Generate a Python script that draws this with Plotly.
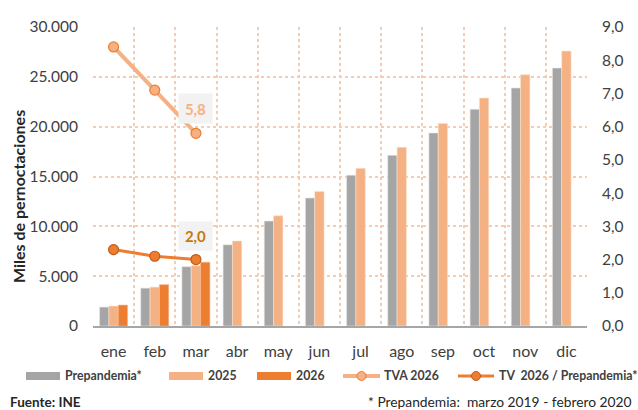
import plotly.graph_objects as go

meses = ["ene", "feb", "mar", "abr", "may", "jun", "jul", "ago", "sep", "oct", "nov", "dic"]
prepandemia = [1900, 3800, 5950, 8150, 10530, 12840, 15130, 17130, 19370, 21740, 23880, 25880]
v2025 = [2000, 3900, 6050, 8530, 11050, 13500, 15820, 17930, 20330, 22870, 25210, 27580]
v2026 = [2100, 4150, 6400, None, None, None, None, None, None, None, None, None]
tva_2026 = [8.4, 7.1, 5.8]
tv_prep = [2.3, 2.1, 2.0]

GRAY = "#a5a5a5"
LORANGE = "#f4b183"
ORANGE = "#ed7d31"
TXT = "#404040"
FONT = "Lato"

W, H = 638, 410
L, R, T, B = 93, 51, 27, 84
PW, PH = W - L - R, H - T - B


def px(x):
    return (x - L) / PW


def py(y):
    return (H - B - y) / PH


fig = go.Figure()
fig.add_bar(x=meses, y=prepandemia, name="Prepandemia*", marker=dict(color=GRAY, line=dict(width=0.6, color="#e6e6e6")))
fig.add_bar(x=meses, y=v2025, name="2025", marker=dict(color=LORANGE, line=dict(width=0.6, color="#fbe0cc")))
fig.add_bar(x=meses, y=v2026, name="2026", marker=dict(color=ORANGE, line=dict(width=0.6, color="#f6b98f")))
fig.add_scatter(x=meses[:3], y=tva_2026, name="TVA 2026", yaxis="y2", mode="lines+markers",
                line=dict(color=LORANGE, width=4),
                marker=dict(size=10, color=LORANGE, line=dict(color=ORANGE, width=1.2)))
fig.add_scatter(x=meses[:3], y=tv_prep, name="TV  2026 / Prepandemia*", yaxis="y2", mode="lines+markers",
                line=dict(color=ORANGE, width=3),
                marker=dict(size=10, color=ORANGE, line=dict(color="#c55a11", width=1.2)))

# data labels on last points
fig.add_annotation(x=meses[2], y=tva_2026[2], yref="y2", text="<b>5,8</b>", showarrow=False,
                   yshift=25, bgcolor="#f2f2f2", width=33, height=29, borderpad=0,
                   font=dict(family=FONT, size=15, color=LORANGE))
fig.add_annotation(x=meses[2], y=tv_prep[2], yref="y2", text="<b>2,0</b>", showarrow=False,
                   yshift=24, bgcolor="#f2f2f2", width=33, height=28, borderpad=0,
                   font=dict(family=FONT, size=15, color="#c8780a"))

# y axis title
fig.add_annotation(xref="paper", yref="paper", x=px(18), y=py(197), xanchor="center", yanchor="middle",
                   text="<b>Miles de pernoctaciones</b>",
                   textangle=-90, showarrow=False, font=dict(family=FONT, size=16, color="#262626"))

# manual legend
shapes = []
legend_items = [
    ("rect", GRAY, 26, 60, 63, "Prepandemia*"),
    ("rect", LORANGE, 169, 203, 206, "2025"),
    ("rect", ORANGE, 257, 291, 294, "2026"),
    ("line", LORANGE, 343, 380, 382, "TVA 2026"),
    ("line", ORANGE, 458, 494, 497, "TV  2026 / Prepandemia*"),
]
ly = 376
for kind, col, x0, x1, tx, label in legend_items:
    if kind == "rect":
        shapes.append(dict(type="rect", xref="paper", yref="paper", x0=px(x0), x1=px(x1),
                           y0=py(ly + 4), y1=py(ly - 4), fillcolor=col, line=dict(width=0)))
    else:
        w = 4 if col == LORANGE else 3
        mc = ORANGE if col == LORANGE else "#c55a11"
        shapes.append(dict(type="line", xref="paper", yref="paper", x0=px(x0), x1=px(x1),
                           y0=py(ly), y1=py(ly), line=dict(color=col, width=w)))
        xm = (x0 + x1) / 2
        shapes.append(dict(type="circle", xref="paper", yref="paper", x0=px(xm - 4.5), x1=px(xm + 4.5),
                           y0=py(ly + 4.5), y1=py(ly - 4.5), fillcolor=col, line=dict(color=mc, width=1)))
    fig.add_annotation(xref="paper", yref="paper", x=px(tx), y=py(ly), xanchor="left", yanchor="middle",
                       text="<b>" + label + "</b>", showarrow=False,
                       font=dict(family=FONT, size=12.3, color=TXT))

fig.add_annotation(xref="paper", yref="paper", x=px(8), y=py(402), xanchor="left", yanchor="middle",
                   text="<b>Fuente: INE</b>", showarrow=False, font=dict(family=FONT, size=13.5, color="#262626"))
fig.add_annotation(xref="paper", yref="paper", x=px(634), y=py(401), xanchor="right", yanchor="middle",
                   text="* Prepandemia:  marzo 2019 - febrero 2020", showarrow=False,
                   font=dict(family=FONT, size=13.8, color="#262626"))

fig.update_layout(
    width=W, height=H,
    margin=dict(l=L, r=R, t=T, b=B),
    paper_bgcolor="white", plot_bgcolor="white",
    separators=",.",
    barmode="group", bargap=0.32, bargroupgap=0,
    showlegend=False,
    shapes=shapes,
    font=dict(family=FONT, color=TXT),
    xaxis=dict(type="category", tickson="boundaries", showgrid=True, gridcolor="#f8cbad", griddash="dot",
               gridwidth=1.5, ticks="", showline=True, linecolor="#a6a6a6", linewidth=2,
               tickfont=dict(family=FONT, size=16, color=TXT), ticklabelstandoff=10,
               range=[-0.5, 11.5]),
    yaxis=dict(range=[0, 30000], dtick=5000, tickformat=",d", showgrid=True, gridcolor="#f8cbad",
               griddash="dot", gridwidth=1.5, zeroline=False, showline=False, ticks="",
               tickfont=dict(family=FONT, size=15.5, color=TXT), ticklabelstandoff=14),
    yaxis2=dict(range=[0, 9], dtick=1, tickformat=".1f", overlaying="y", side="right", showgrid=False,
                zeroline=False, showline=False, ticks="",
                tickfont=dict(family=FONT, size=15.5, color=TXT), ticklabelstandoff=14),
)

fig.write_html("out.html", config={"displayModeBar": False},
               post_script="document.body.style.margin='0';document.body.style.overflow='hidden';")
